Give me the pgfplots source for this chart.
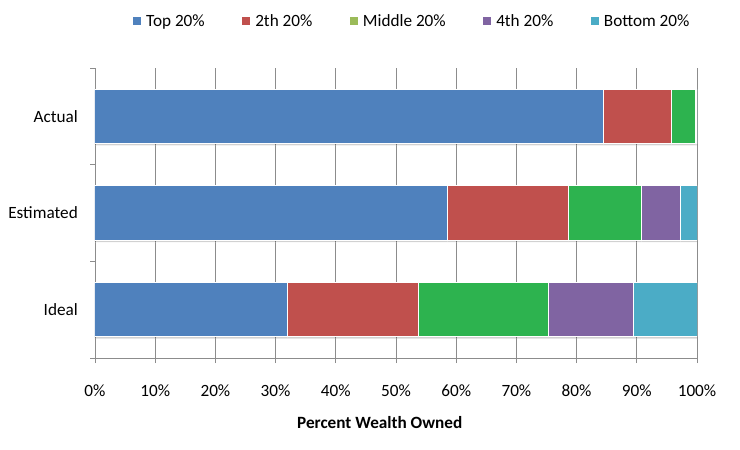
\documentclass[border=0pt]{standalone}
\usepackage{pgfplots}
\pgfplotsset{compat=1.18}
\usepackage{fontspec}
\setmainfont{Carlito}
\usetikzlibrary{shadows}
\definecolor{cTop}{HTML}{4F81BD}
\definecolor{cSec}{HTML}{C0504D}
\definecolor{cMidL}{HTML}{9BBB59}
\definecolor{cMid}{HTML}{2DB34F}
\definecolor{cFour}{HTML}{8064A2}
\definecolor{cBot}{HTML}{4BACC6}
\definecolor{gridc}{HTML}{8C8C8C}
\begin{document}
\fontsize{17.2bp}{20bp}\selectfont
\begin{tikzpicture}
\begin{axis}[
  anchor=south west, at={(0,0)},
  scale only axis, width=602bp, height=290bp,
  xbar stacked, bar width=0.56,
  xmin=0, xmax=100, ymin=-0.5, ymax=2.5,
  xtick={0,10,...,100},
  xticklabel={\pgfmathprintnumber{\tick}\%},
  /pgf/number format/assume math mode=true,
  axis x line*=bottom, axis y line*=left,
  axis line style={color=gridc, line width=0.9bp},
  xmajorgrids, grid style={color=gridc, line width=0.9bp},
  tick align=outside, major tick length=5bp,
  tick style={color=gridc, line width=0.9bp},
  ytick={-0.5,0.5,1.5,2.5}, yticklabels={},
  extra y ticks={0,1,2},
  extra y tick labels={Ideal,Estimated,Actual},
  extra y tick style={major tick length=0pt, yticklabel style={inner sep=0pt, xshift=-17bp}},
  xticklabel style={inner sep=0pt, anchor=north, yshift=-21.5bp},
  xlabel={\bfseries Percent Wealth Owned},
  xlabel style={at={(axis cs:47.3,-0.5)}, anchor=center, yshift=-65bp},
  legend columns=5,
  legend style={draw=none, fill=none, inner sep=0pt,
    at={(axis description cs:0,1)}, anchor=west, xshift=38bp, yshift=45bp,
    /tikz/every odd column/.style={column sep=5bp},
    /tikz/every even column/.style={column sep=37.5bp},
    nodes={inner sep=0pt, text height=12bp, text depth=4bp, anchor=base west}},
  legend cell align=left,
  legend image code/.code={\fill[#1] (0bp,2bp) rectangle (8bp,10bp);},
  barsty/.style={draw=white, line width=1bp,
    /tikz/drop shadow={shadow xshift=0bp, shadow yshift=-2bp, opacity=0.18, fill=black}},
]
\addlegendimage{fill=cTop, draw=none}
\addlegendentry{Top 20\%}
\addlegendimage{fill=cSec, draw=none}
\addlegendentry{2th 20\%}
\addlegendimage{fill=cMidL, draw=none}
\addlegendentry{Middle 20\%}
\addlegendimage{fill=cFour, draw=none}
\addlegendentry{4th 20\%}
\addlegendimage{fill=cBot, draw=none}
\addlegendentry{Bottom 20\%}

\addplot[barsty, fill=cTop, forget plot] coordinates {(31.9,0) (58.5,1) (84.5,2)};
\addplot[barsty, fill=cSec, forget plot] coordinates {(21.9,0) (20.2,1) (11.3,2)};
\addplot[barsty, fill=cMid, forget plot] coordinates {(21.6,0) (12.0,1) (3.9,2)};
\addplot[barsty, fill=cFour, forget plot] coordinates {(14.1,0) (6.5,1) (0.2,2)};
\addplot[barsty, fill=cBot, forget plot] coordinates {(10.5,0) (2.8,1) (0.1,2)};
\end{axis}
\pgfresetboundingbox
\path[use as bounding box] (-95bp,-92bp) rectangle (645bp,358bp);
\end{tikzpicture}
\end{document}
